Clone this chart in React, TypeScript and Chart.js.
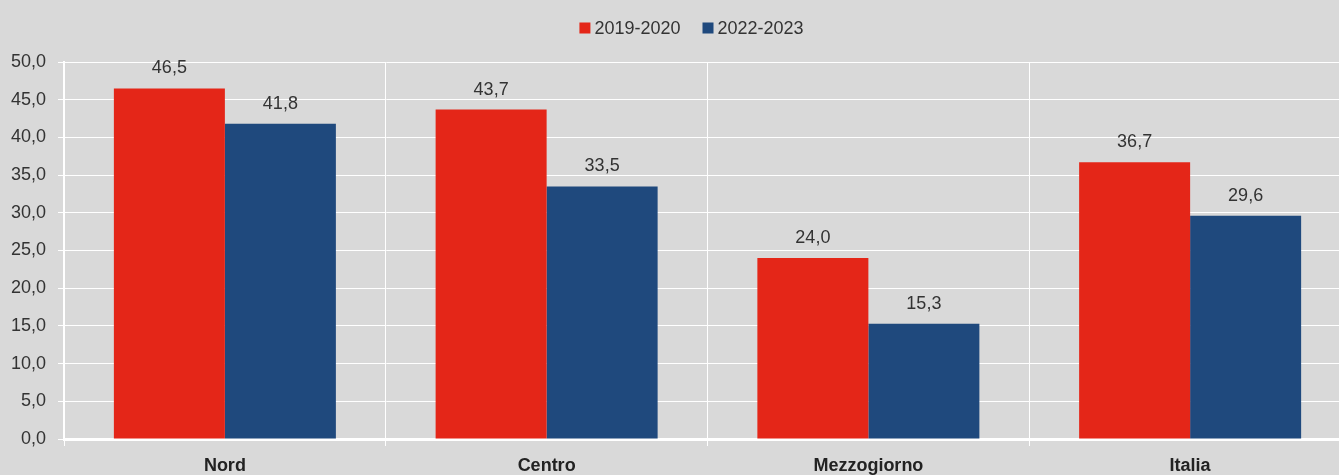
import React, { useEffect, useRef } from "react";
import { Chart, registerables } from "chart.js";

Chart.register(...registerables);

const categories = ["Nord", "Centro", "Mezzogiorno", "Italia"];
const seriesLabels = ["2019-2020", "2022-2023"];
const values2019 = [46.5, 43.7, 24.0, 36.7];
const values2022 = [41.8, 33.5, 15.3, 29.6];
const seriesColors = ["#E42618", "#1F497D"];
const yMin = 0;
const yMax = 50;
const yStep = 5;

const FONT = "'Liberation Sans Narrow', 'Arial Narrow', 'Liberation Sans', Arial, sans-serif";
const fmt = (v: number) => v.toFixed(1).replace(".", ",");

const bgPlugin = {
  id: "bg",
  beforeDraw(chart: any) {
    const { ctx, width, height } = chart;
    ctx.save();
    ctx.fillStyle = "#D9D9D9";
    ctx.fillRect(0, 0, width, height);
    ctx.restore();
  },
};

const dataLabelPlugin = {
  id: "dataLabels",
  afterDatasetsDraw(chart: any) {
    const { ctx } = chart;
    ctx.save();
    ctx.font = `18px ${FONT}`;
    ctx.fillStyle = "#333333";
    ctx.textAlign = "center";
    ctx.textBaseline = "alphabetic";
    chart.data.datasets.forEach((ds: any, i: number) => {
      const meta = chart.getDatasetMeta(i);
      meta.data.forEach((el: any, j: number) => {
        ctx.fillText(fmt(ds.data[j]), el.x, el.y - 15);
      });
    });
    ctx.restore();
  },
};

const legendPlugin = {
  id: "customLegend",
  afterDraw(chart: any) {
    const { ctx } = chart;
    ctx.save();
    ctx.font = `18px ${FONT}`;
    ctx.textBaseline = "middle";
    ctx.textAlign = "left";
    const box = 11;
    const gap = 4;
    const spacing = 22;
    const widths = chart.data.datasets.map((ds: any) => ctx.measureText(ds.label).width);
    const total = widths.reduce((a: number, w: number) => a + box + gap + w, 0) + spacing * (widths.length - 1);
    let x = 691.5 - total / 2;
    const cy = 28;
    chart.data.datasets.forEach((ds: any, i: number) => {
      ctx.fillStyle = ds.backgroundColor;
      ctx.fillRect(x, cy - box / 2, box, box);
      x += box + gap;
      ctx.fillStyle = "#333333";
      ctx.fillText(ds.label, x, cy + 1);
      x += widths[i] + spacing;
    });
    ctx.restore();
  },
};

export default function App() {
  const ref = useRef<HTMLCanvasElement | null>(null);

  useEffect(() => {
    document.body.style.margin = "0";
    const canvas = ref.current;
    if (!canvas) return;
    const chart = new Chart(canvas, {
      type: "bar",
      data: {
        labels: categories,
        datasets: [
          {
            label: seriesLabels[0],
            data: values2019,
            backgroundColor: seriesColors[0],
            categoryPercentage: 0.69,
            barPercentage: 1.0,
          },
          {
            label: seriesLabels[1],
            data: values2022,
            backgroundColor: seriesColors[1],
            categoryPercentage: 0.69,
            barPercentage: 1.0,
          },
        ],
      },
      options: {
        responsive: false,
        animation: false,
        devicePixelRatio: 1,
        layout: { padding: { top: 62, right: 0, left: 0, bottom: 0 } },
        plugins: {
          legend: { display: false },
          tooltip: { enabled: false },
        },
        scales: {
          x: {
            grid: {
              color: "#FFFFFF",
              lineWidth: 1,
              tickLength: 7,
              offset: true,
            },
            border: { color: "#FFFFFF", width: 3 },
            ticks: {
              color: "#222222",
              font: { family: FONT, size: 18, weight: "bold" },
              padding: 9,
            },
            afterFit(scale: any) {
              scale.height = 36;
            },
          },
          y: {
            min: yMin,
            max: yMax,
            grid: {
              color: "#FFFFFF",
              lineWidth: 1,
              tickLength: 6,
            },
            border: { color: "#FFFFFF", width: 2 },
            ticks: {
              stepSize: yStep,
              color: "#333333",
              font: { family: FONT, size: 18 },
              padding: 12,
              callback: (v: any) => fmt(Number(v)),
            },
            afterFit(scale: any) {
              scale.width = 64;
            },
          },
        },
      },
      plugins: [bgPlugin, dataLabelPlugin, legendPlugin],
    });
    return () => chart.destroy();
  }, []);

  return (
    <div style={{ width: 1339, height: 475, overflow: "hidden", position: "relative", background: "#D9D9D9" }}>
      <canvas ref={ref} width={1351} height={475} style={{ display: "block" }} />
    </div>
  );
}
